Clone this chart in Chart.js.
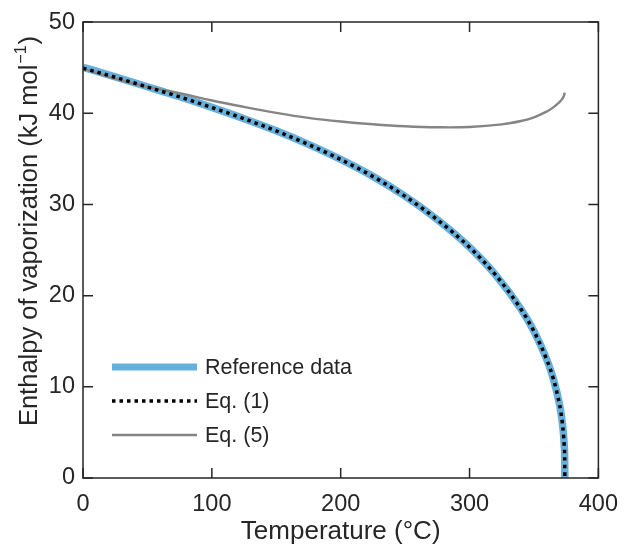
<!DOCTYPE html>
<html>
<head>
<meta charset="utf-8">
<script src="https://cdn.jsdelivr.net/npm/chart.js@4"></script>
<style>
html,body{margin:0;padding:0;background:#fff;}
#wrap{width:630px;height:549px;position:relative;}
</style>
</head>
<body>
<div id="wrap"><canvas id="c" width="630" height="549"></canvas></div>
<script>
// Temperature (°C) and enthalpy of vaporization (kJ/mol)
const tRef = [0,25,50,75,100,125,150,175,200,225,250,275,300,320,340,350,360,365,370,371,372,373,373.5,373.9,373.95];
const hRef = [45.05,43.99,42.91,41.82,40.65,39.41,38.08,36.59,34.94,33.08,30.90,28.34,25.31,22.31,18.51,16.10,12.97,10.9,7.96,7.1,6.07,4.63,3.5,1.5,0];
const tEq1 = [0,25,50,75,100,125,150,175,200,225,250,275,300,320,340,350,360,365,370,371,372,373,373.5,373.9,373.95];
const hEq1 = [44.95,43.95,42.88,41.80,40.63,39.40,38.06,36.58,34.93,33.07,30.89,28.33,25.30,22.30,18.50,16.08,12.95,10.9,7.95,7.1,6.05,4.6,3.5,1.5,0];
const tEq5 = [0,25,50,75,100,125,150,175,200,225,250,275,300,325,340,350,360,365,370,372,373,374];
const hEq5 = [44.9,43.8,42.9,42.2,41.4,40.7,40.05,39.5,39.1,38.8,38.58,38.47,38.5,38.78,39.15,39.55,40.2,40.65,41.25,41.6,41.85,42.25];
const xTicks = [0,100,200,300,400];
const yTicks = [0,10,20,30,40,50];
const seriesLabels = ['Reference data','Eq. (1)','Eq. (5)'];
const yTitleMain = 'Enthalpy of vaporization (kJ mol';
const yTitleSup = '\u22121';
const yTitleEnd = ')';

const pts = (xs, ys) => xs.map((x,i)=>({x:x,y:ys[i]}));
const FONT = '"Liberation Sans", Arial, Helvetica, sans-serif';

const frame = {
  id:'frame',
  afterDatasetsDraw(chart){
    const {ctx, chartArea:a, scales:{x,y}} = chart;
    ctx.save();
    ctx.strokeStyle = '#262626';
    ctx.lineWidth = 1.5;
    ctx.beginPath();
    ctx.rect(a.left, a.top, a.right-a.left, a.bottom-a.top);
    ctx.stroke();
    const L = 10;
    ctx.beginPath();
    xTicks.forEach(v=>{
      const px = x.getPixelForValue(v);
      ctx.moveTo(px,a.bottom); ctx.lineTo(px,a.bottom-L);
      ctx.moveTo(px,a.top); ctx.lineTo(px,a.top+L);
    });
    yTicks.forEach(v=>{
      const py = y.getPixelForValue(v);
      ctx.moveTo(a.left,py); ctx.lineTo(a.left+L,py);
      ctx.moveTo(a.right,py); ctx.lineTo(a.right-L,py);
    });
    ctx.stroke();
    // legend
    const rows = [367, 401, 435];
    chart.data.datasets.forEach((ds,i)=>{
      const yy = rows[i];
      ctx.save();
      ctx.strokeStyle = ds.borderColor;
      ctx.lineWidth = i===0 ? 7 : ds.borderWidth;
      ctx.setLineDash(ds.borderDash || []);
      ctx.lineCap = 'butt';
      ctx.beginPath();
      ctx.moveTo(112,yy); ctx.lineTo(197,yy);
      ctx.stroke();
      ctx.restore();
      ctx.fillStyle = '#262626';
      ctx.font = '21.5px ' + FONT;
      ctx.textBaseline = 'middle';
      ctx.textAlign = 'left';
      ctx.fillText(ds.label, 205, yy+1);
    });
    // y-axis title with superscript
    ctx.save();
    ctx.fillStyle = '#262626';
    ctx.translate(37, 232);
    ctx.rotate(-Math.PI/2);
    ctx.textBaseline = 'alphabetic';
    const fMain = '25.5px ' + FONT, fSup = '16px ' + FONT;
    ctx.font = fMain;
    const w1 = ctx.measureText(yTitleMain).width;
    const w3 = ctx.measureText(yTitleEnd).width;
    ctx.font = fSup;
    const w2 = ctx.measureText(yTitleSup).width;
    let sx = -(w1+w2+w3)/2;
    ctx.font = fMain; ctx.textAlign = 'left';
    ctx.fillText(yTitleMain, sx, 0);
    ctx.font = fSup;
    ctx.fillText(yTitleSup, sx+w1+1, -11);
    ctx.font = fMain;
    ctx.fillText(yTitleEnd, sx+w1+w2+2, 0);
    ctx.restore();
    ctx.restore();
  }
};

new Chart(document.getElementById('c'), {
  type:'line',
  data:{
    datasets:[
      {label:seriesLabels[0], data:pts(tRef,hRef), order:2, borderColor:'#68b0dc', borderWidth:7.5, pointRadius:0, cubicInterpolationMode:'monotone'},
      {label:seriesLabels[1], data:pts(tEq1,hEq1), order:0, borderColor:'#000000', borderWidth:3.5, borderDash:[3.5,4], pointRadius:0, cubicInterpolationMode:'monotone'},
      {label:seriesLabels[2], data:pts(tEq5,hEq5), order:1, borderColor:'#858585', borderWidth:2.4, pointRadius:0, tension:0.4}
    ]
  },
  options:{
    responsive:false,
    animation:false,
    layout:{padding:{left:0,right:24,top:22,bottom:0}},
    plugins:{legend:{display:false}, tooltip:{enabled:false}},
    scales:{
      x:{
        type:'linear', min:0, max:400,
        afterBuildTicks(s){ s.ticks = xTicks.map(v=>({value:v})); },
        afterFit(s){ s.height = 71; },
        grid:{display:false, drawTicks:false},
        border:{display:false},
        ticks:{padding:12, color:'#262626', font:{family:FONT, size:23.5}},
        title:{display:true, text:'Temperature (°C)', color:'#262626', font:{family:FONT, size:26}, padding:{top:0,bottom:2}}
      },
      y:{
        type:'linear', min:0, max:50,
        afterBuildTicks(s){ s.ticks = yTicks.map(v=>({value:v})); },
        afterFit(s){ s.width = 83; },
        grid:{display:false, drawTicks:false},
        border:{display:false},
        ticks:{padding:8, color:'#262626', font:{family:FONT, size:23.5}},
        title:{display:false}
      }
    }
  },
  plugins:[frame]
});
</script>
</body>
</html>
